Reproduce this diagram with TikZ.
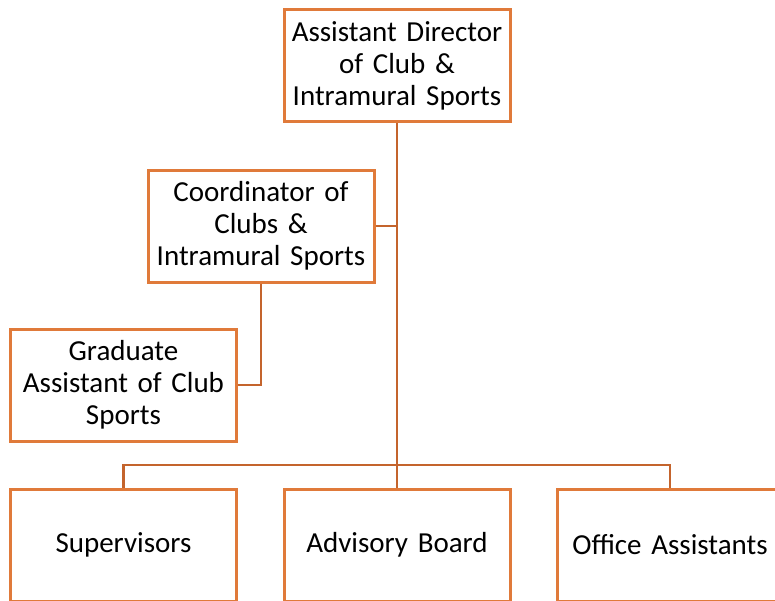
\documentclass[tikz,border=0pt]{standalone}
\usepackage{fontspec}
\setmainfont{Carlito}
\definecolor{boxline}{RGB}{224,122,58}
\definecolor{connline}{RGB}{196,100,45}
\begin{document}
\begin{tikzpicture}[x=1pt,y=-1pt,
  orgbox/.style={draw=boxline, line width=3pt, fill=white, rectangle,
    minimum width=226pt, minimum height=112pt, inner sep=0pt,
    text width=224pt, align=center, font=\fontsize{29}{32}\selectfont},
  conn/.style={draw=connline, line width=2.6pt}]
\useasboundingbox (0,0) rectangle (775,600);
\begin{scope}
\clip (0,0) rectangle (775,600);
\node[orgbox] (top) at (397,65.5) {Assistant Director\\of Club \&\\Intramural Sports};
\node[orgbox] (coord) at (261,226) {Coordinator of\\Clubs \&\\Intramural Sports};
\node[orgbox] (grad) at (123.5,385) {Graduate\\Assistant of Club\\Sports};
\node[orgbox] (sup) at (123.5,545) {Supervisors};
\node[orgbox] (adv) at (397,545) {Advisory Board};
\node[orgbox] (off) at (670,545) {Office Assistants};
\coordinate (bus) at (397,465);
\draw[conn] (top.south) -- (adv.north);
\draw[conn] (coord.east) -- (coord.east -| top.south);
\draw[conn] (coord.south) |- (grad.east);
\draw[conn] (sup.north) |- (bus) -| (off.north);
\end{scope}
\end{tikzpicture}
\end{document}
